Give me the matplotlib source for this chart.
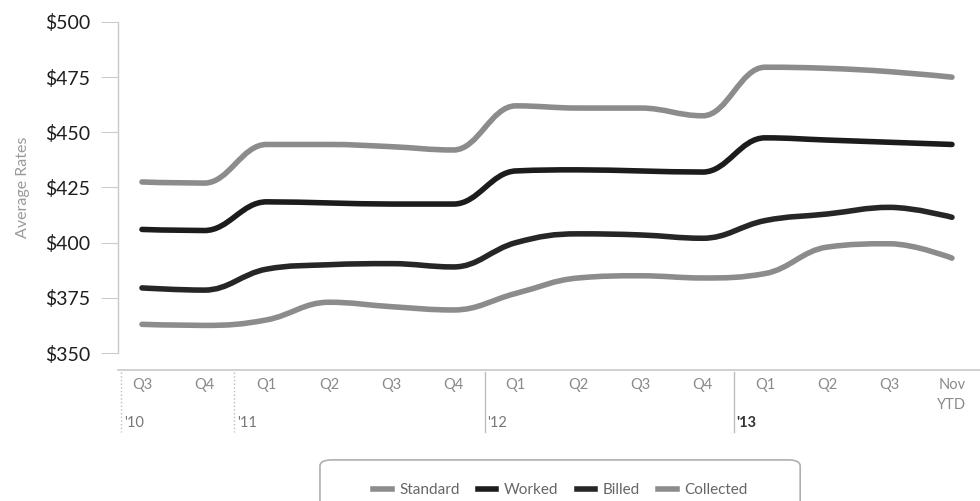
import numpy as np
import matplotlib
matplotlib.use("Agg")
import matplotlib.pyplot as plt
from matplotlib.path import Path
from matplotlib.patches import PathPatch, FancyBboxPatch
from matplotlib.lines import Line2D
import matplotlib.transforms as mtransforms

quarters = ["Q3", "Q4", "Q1", "Q2", "Q3", "Q4", "Q1", "Q2", "Q3", "Q4",
            "Q1", "Q2", "Q3", "Nov\nYTD"]
years = ["'10", "'11", "'12", "'13"]

standard = [427.5, 427, 444.5, 444.5, 443.5, 442, 462, 461, 461, 457.5,
            479.5, 479, 477.5, 475]
worked = [406, 405.5, 418.5, 418, 417.5, 417.5, 432.5, 433, 432.5, 432,
          447.5, 446.5, 445.5, 444.5]
billed = [379.5, 378.5, 388, 390, 390.5, 389, 400, 404, 403.5, 402,
          410, 413, 416, 411.5]
collected = [363, 362.5, 365, 373, 371, 369.5, 377, 384, 385, 384,
             386, 398, 399.5, 393]

series = [("Standard", standard, "#8c8c8c"),
          ("Worked", worked, "#1c1c1c"),
          ("Billed", billed, "#262626"),
          ("Collected", collected, "#8c8c8c")]


def spline_path(xs, ys, smoothing=1.5):
    # bezier control points built like the original spline chart
    n = len(xs)
    left = [(xs[i], ys[i]) for i in range(n)]
    right = [(xs[i], ys[i]) for i in range(n)]
    denom = smoothing + 1
    for i in range(1, n - 1):
        x, y = xs[i], ys[i]
        lx, ly = xs[i - 1], ys[i - 1]
        nx, ny = xs[i + 1], ys[i + 1]
        lcx = (smoothing * x + lx) / denom
        lcy = (smoothing * y + ly) / denom
        rcx = (smoothing * x + nx) / denom
        rcy = (smoothing * y + ny) / denom
        corr = (rcy - lcy) * (rcx - x) / (rcx - lcx) + y - rcy
        lcy += corr
        rcy += corr
        if lcy > ly and lcy > y:
            lcy = max(ly, y)
            rcy = 2 * y - lcy
        elif lcy < ly and lcy < y:
            lcy = min(ly, y)
            rcy = 2 * y - lcy
        if rcy > ny and rcy > y:
            rcy = max(ny, y)
            lcy = 2 * y - rcy
        elif rcy < ny and rcy < y:
            rcy = min(ny, y)
            lcy = 2 * y - rcy
        left[i] = (lcx, lcy)
        right[i] = (rcx, rcy)
    verts = [(xs[0], ys[0])]
    codes = [Path.MOVETO]
    for i in range(1, n):
        verts += [right[i - 1], left[i], (xs[i], ys[i])]
        codes += [Path.CURVE4] * 3
    return Path(verts, codes)


fig = plt.figure(figsize=(9.8, 5.01), dpi=100)
ax = fig.add_axes([0.1204, 0.2954, 0.8796, 0.6607])

x = np.arange(len(quarters))
for name, vals, col in series:
    p = PathPatch(spline_path(x, vals), facecolor="none", edgecolor=col,
                  lw=4, capstyle="round", joinstyle="round")
    ax.add_patch(p)

ax.set_xlim(-0.385, 13.45)
ax.set_ylim(350, 500)
ax.set_yticks([350, 375, 400, 425, 450, 475, 500])
ax.set_yticklabels(["$%d" % v for v in ax.get_yticks()],
                   fontfamily="Lato", fontsize=14, color="#1e1e1e")
ax.tick_params(axis="y", length=12, width=0.8, color="#cccccc", pad=8)
ax.set_xticks([])

for s in ["top", "right"]:
    ax.spines[s].set_visible(False)
ax.spines["left"].set_color("#c8c8c8")
ax.spines["left"].set_linewidth(1)
ax.spines["bottom"].set_position(("outward", 12))
ax.spines["bottom"].set_color("#c8c8c8")
ax.spines["bottom"].set_linewidth(1.2)

ax.set_ylabel("Average Rates", fontfamily="Lato", fontsize=11.5,
              color="#9a9a9a")
ax.yaxis.set_label_coords(-0.102, 0.5)

trans = mtransforms.blended_transform_factory(ax.transData, ax.transAxes)
for i, q in enumerate(quarters):
    ax.text(i, -0.075, q, transform=trans, ha="center", va="top",
            fontfamily="Lato", fontsize=10.5, color="#8a8a8a",
            linespacing=1.6)

seps = [-0.33, 1.48, 5.5, 9.5]
for k, (yr, s) in enumerate(zip(years, seps)):
    ax.plot([s, s], [-0.058, -0.24], transform=trans, color="#bdbdbd",
            lw=1, clip_on=False, ls=":" if k < 2 else "-")
    ax.text(s + 0.04, -0.19, yr, transform=trans, ha="left", va="top",
            fontfamily="Lato", fontsize=10.5,
            color="#333333" if k == 3 else "#777777",
            fontweight="bold" if k == 3 else "normal")

box = FancyBboxPatch((0.3265, -0.04), 0.49, 0.122,
                     boxstyle="round,pad=0,rounding_size=0.012",
                     transform=fig.transFigure, facecolor="white",
                     edgecolor="#b0b0b0", lw=1.2)
fig.patches.append(box)

handles = [Line2D([], [], color=c, lw=4) for _, _, c in series]
leg = fig.legend(handles, [n for n, _, _ in series], ncol=4,
                 loc="center", bbox_to_anchor=(0.572, 0.022),
                 frameon=False, handlelength=1.2, handletextpad=0.5,
                 columnspacing=1.2, prop={"family": "Lato", "size": 11})
for t in leg.get_texts():
    t.set_color("#666666")

fig.savefig("out.png", dpi=100)
